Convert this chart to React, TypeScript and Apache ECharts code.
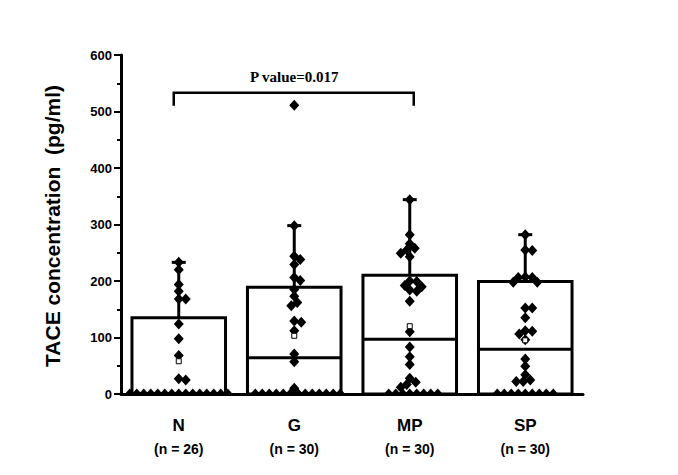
import React, { useEffect, useRef } from "react";
import * as echarts from "echarts";

const categories = ["N", "G", "MP", "SP"];
const sampleSizes = [26, 30, 30, 30];
const boxTops = [135, 189, 210, 199];
const medians = [0, 64, 97, 79];
const whiskerTops = [233, 298, 344, 282];
const means = [58, 103, 120, 95];
const yTicks = [0, 100, 200, 300, 400, 500, 600];

const pointsN = [233, 220, 194, 182, 168, 168, 124, 98, 68, 27, 25, 0, 0, 0, 0, 0, 0, 0, 0, 0, 0, 0, 0, 0, 0, 0];
const pointsG = [511, 298, 244, 238, 229, 206, 201, 185, 173, 162, 156, 129, 127, 112, 71, 57, 10, 0, 0, 0, 0, 0, 0, 0, 0, 0, 0, 0, 0, 0];
const pointsMP = [344, 282, 266, 258, 255, 249, 243, 200, 199, 192, 190, 184, 182, 164, 110, 83, 66, 52, 28, 21, 17, 12, 0, 0, 0, 0, 0, 0, 0, 0];
const pointsSP = [282, 255, 254, 207, 206, 206, 198, 198, 152, 152, 135, 112, 111, 106, 96, 62, 49, 34, 25, 22, 22, 0, 0, 0, 0, 0, 0, 0, 0, 0];
const groupPoints = [pointsN, pointsG, pointsMP, pointsSP];

const yAxisTitle = "TACE concentration  (pg/ml)";
const pValueText = "P value=0.017";
const bracketFrom = 0;
const bracketTo = 2;
const bracketValue = 533;
const bracketDrop = 23;

const GRID_LEFT = 121;
const GRID_RIGHT = 95;
const GRID_TOP = 55;
const GRID_BOTTOM = 81;
const W = 678;
const H = 475;
const Y_MAX = 600;

function swarm(values: number[], catW: number, plotH: number, minD: number): number[] {
  const placed: { x: number; y: number }[] = [];
  return values.map((v) => {
    const y = (v * plotH) / Y_MAX;
    for (let k = 0; k < 600; k++) {
      const off = k === 0 ? 0 : k % 2 ? Math.ceil(k / 2) : -Math.ceil(k / 2);
      const ok = placed.every((p) => (p.x - off) ** 2 + (p.y - y) ** 2 >= minD * minD);
      if (ok) {
        placed.push({ x: off, y });
        return off / catW;
      }
    }
    return 0;
  });
}

export default function App() {
  const ref = useRef<HTMLDivElement>(null);
  useEffect(() => {
    if (!ref.current) return;
    document.body.style.margin = "0";
    const chart = echarts.init(ref.current, null, { renderer: "svg" });
    const plotW = W - GRID_LEFT - GRID_RIGHT;
    const plotH = H - GRID_TOP - GRID_BOTTOM;
    const catW = plotW / categories.length;

    const diamondData: number[][] = [];
    groupPoints.forEach((pts, gi) => {
      const offs = swarm(pts, catW, plotH, 6.6);
      pts.forEach((v, i) => diamondData.push([gi + offs[i], v]));
    });

    const boxData = categories.map((_, i) => [i, boxTops[i], medians[i], whiskerTops[i]]);
    const meanData = categories.map((_, i) => [i, means[i]]);

    const font = "Liberation Sans, Arial, sans-serif";

    chart.setOption({
      animation: false,
      backgroundColor: "#ffffff",
      grid: { left: GRID_LEFT, right: GRID_RIGHT, top: GRID_TOP, bottom: GRID_BOTTOM, containLabel: false },
      xAxis: [
        {
          type: "category",
          data: categories,
          z: 10,
          axisLine: { onZero: false, lineStyle: { color: "#000", width: 3 } },
          axisTick: { alignWithLabel: true, length: 6, lineStyle: { color: "#000", width: 3 } },
          axisLabel: {
            margin: 20,
            formatter: (val: string, idx: number) => `{a|${val}}\n{b|(n = ${sampleSizes[idx]})}`,
            rich: {
              a: { fontFamily: font, fontWeight: "bold", fontSize: 17, lineHeight: 23, color: "#000" },
              b: { fontFamily: font, fontWeight: "bold", fontSize: 14, lineHeight: 23, color: "#000" },
            },
          },
        },
        { type: "value", min: -0.5, max: 3.5, show: false },
      ],
      yAxis: {
        type: "value",
        min: 0,
        max: Y_MAX,
        interval: 100,
        z: 10,
        axisLine: { show: true, onZero: false, lineStyle: { color: "#000", width: 3 } },
        axisTick: { show: true, length: 7, lineStyle: { color: "#000", width: 2 } },
        minorTick: { show: true, splitNumber: 2, length: 4, lineStyle: { color: "#000", width: 2 } },
        splitLine: { show: false },
        axisLabel: {
          margin: 9,
          fontFamily: font,
          fontWeight: "bold",
          fontSize: 13,
          color: "#000",
          formatter: (v: number) => (yTicks.includes(v) ? String(v) : ""),
        },
      },
      graphic: [
        {
          type: "text",
          x: 52,
          y: 226,
          rotation: Math.PI / 2,
          style: {
            text: yAxisTitle,
            font: `bold 21px ${font}`,
            fill: "#000",
            textAlign: "center",
            textVerticalAlign: "middle",
          },
        },
      ],
      series: [
        {
          type: "custom",
          xAxisIndex: 0,
          clip: false,
          z: 2,
          encode: { x: 0, y: [1, 2, 3] },
          data: boxData,
          renderItem: (params: any, api: any) => {
            const x = api.value(0);
            const top = api.coord([x, api.value(1)]);
            const base = api.coord([x, 0]);
            const med = api.coord([x, api.value(2)]);
            const wt = api.coord([x, api.value(3)]);
            const bw = api.size([1, 0])[0] * 0.81;
            const cx = top[0];
            const st = { stroke: "#000", lineWidth: 3, fill: "none" };
            return {
              type: "group",
              children: [
                { type: "line", shape: { x1: cx, y1: top[1], x2: cx, y2: wt[1] }, style: st },
                { type: "line", shape: { x1: cx - 7, y1: wt[1], x2: cx + 7, y2: wt[1] }, style: st },
                {
                  type: "rect",
                  shape: { x: cx - bw / 2, y: top[1], width: bw, height: base[1] - top[1] },
                  style: st,
                },
                { type: "line", shape: { x1: cx - bw / 2, y1: med[1], x2: cx + bw / 2, y2: med[1] }, style: st },
              ],
            };
          },
        },
        {
          type: "custom",
          xAxisIndex: 0,
          clip: false,
          z: 2,
          data: [[bracketFrom, bracketTo, bracketValue]],
          encode: { x: [0, 1], y: 2 },
          renderItem: (params: any, api: any) => {
            const a = api.coord([api.value(0), api.value(2)]);
            const b = api.coord([api.value(1), api.value(2)]);
            const d = api.coord([api.value(0), api.value(2) - bracketDrop]);
            const st = { stroke: "#000", lineWidth: 2.5, fill: "none" };
            return {
              type: "group",
              children: [
                {
                  type: "polyline",
                  shape: { points: [[a[0] - 5, d[1]], [a[0] - 5, a[1]], [b[0] + 4, b[1]], [b[0] + 4, d[1]]] },
                  style: st,
                },
                {
                  type: "text",
                  x: (a[0] + b[0]) / 2,
                  y: a[1] - 16,
                  style: {
                    text: pValueText,
                    font: "bold 15px Liberation Serif, Times New Roman, serif",
                    fill: "#000",
                    textAlign: "center",
                    textVerticalAlign: "middle",
                  },
                },
              ],
            };
          },
        },
        {
          type: "custom",
          xAxisIndex: 1,
          clip: true,
          z: 3,
          encode: { x: 0, y: 1 },
          data: diamondData,
          renderItem: (params: any, api: any) => {
            const p = api.coord([api.value(0), api.value(1)]);
            return {
              type: "polygon",
              shape: {
                points: [
                  [p[0], p[1] - 5.5],
                  [p[0] + 5, p[1]],
                  [p[0], p[1] + 5.5],
                  [p[0] - 5, p[1]],
                ],
              },
              style: { fill: "#000" },
            };
          },
        },
        {
          type: "scatter",
          xAxisIndex: 0,
          symbol: "rect",
          symbolSize: 5,
          z: 4,
          itemStyle: { color: "#fff", borderColor: "#000", borderWidth: 1, opacity: 1 },
          data: meanData,
        },
      ],
    });
    return () => chart.dispose();
  }, []);
  return <div ref={ref} style={{ width: W, height: H }} />;
}
